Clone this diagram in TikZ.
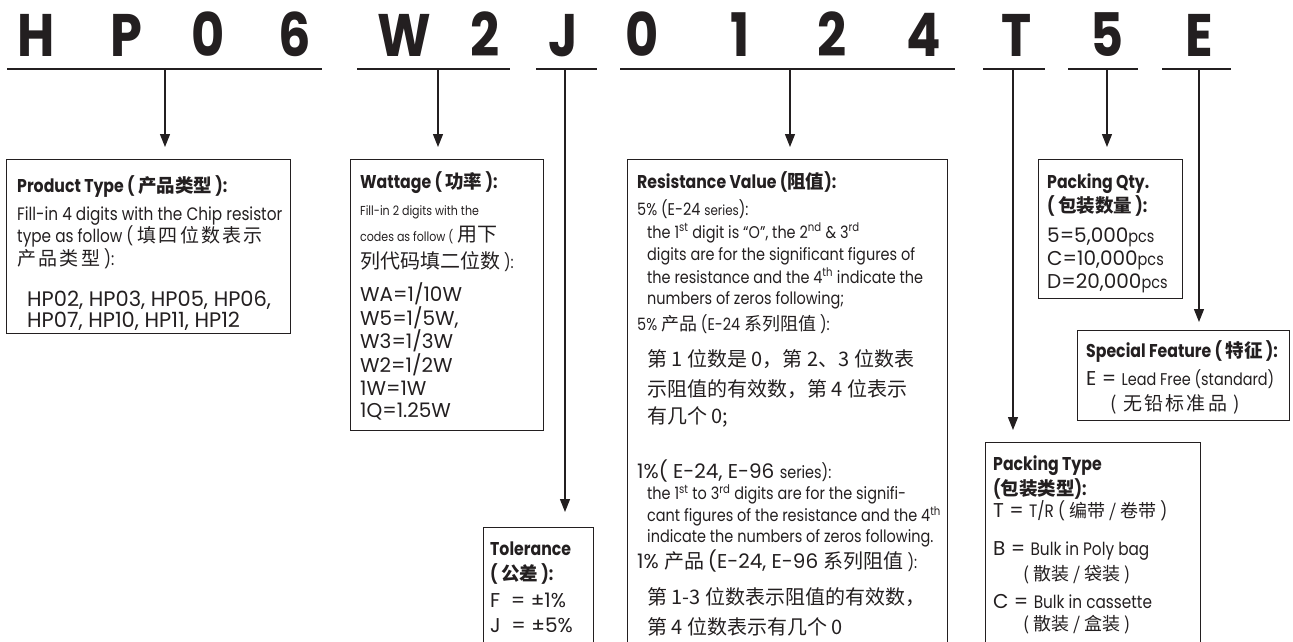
\documentclass[tikz,border=0pt]{standalone}
\usepackage{fontspec}
\setmainfont{Poppins}
\newfontfamily\narrowfont{Poppins}[FakeStretch=0.85]
\newfontfamily\bigf{Poppins}[FakeStretch=0.85]
\newfontfamily\cjk{Noto Sans CJK SC}
\newfontfamily\cjkwide{Noto Sans CJK SC}[LetterSpace=12]
\usetikzlibrary{arrows.meta}
\definecolor{ink}{HTML}{231F20}
\newcommand{\zh}[1]{{\cjk\fontsize{20}{22}\selectfont #1}}
\newcommand{\zs}[1]{{\cjk\fontsize{18}{22}\selectfont #1}}
\newcommand{\zw}[1]{{\cjkwide\fontsize{19}{22}\selectfont #1}}
\newcommand{\ttl}{\narrowfont\bfseries\fontsize{18.5}{22}\selectfont}
\newcommand{\cd}{\normalfont\fontsize{20}{22}\selectfont}
\newcommand{\xs}{\narrowfont\fontsize{13}{22}\selectfont}
\newcommand{\sm}{\narrowfont\fontsize{14}{22}\selectfont}

\begin{document}
\begin{tikzpicture}[x=1pt, y=-1pt,
    code/.style={font=\bigf\bfseries\fontsize{60}{60}\selectfont, text=ink, anchor=base, inner sep=0pt},
    frame/.style={draw=ink, line width=1.1pt, anchor=north west, inner sep=0pt},
    txt/.style={anchor=north west, inner sep=0pt, align=left, text=ink, font=\narrowfont\fontsize{17}{22}\selectfont},
    uline/.style={draw=ink, line width=1.4pt},
    pointer/.style={draw=ink, line width=1.2pt, -{Triangle[length=13pt,width=10pt]}}]
  \useasboundingbox (0,0) rectangle (1293,641);

  % part number
  \node[code] (cH) at (36,56) {H};
  \node[code] (cP) at (126,56) {P};
  \node[code] (c0) at (208,56) {0};
  \node[code] (c6) at (295,56) {6};
  \node[code] (cW) at (404,56) {W};
  \node[code] (c2) at (485,56) {2};
  \node[code] (cJ) at (563,56) {J};
  \node[code] (d0) at (642,56) {0};
  \node[code] (d1) at (740,56) {1};
  \node[code] (d2) at (832,56) {2};
  \node[code] (d4) at (924,56) {4};
  \node[code] (cT) at (1017,56) {T};
  \node[code] (c5) at (1107,56) {5};
  \node[code] (cE) at (1199,56) {E};

  % underlines
  \coordinate (hpL) at (7,69);    \coordinate (hpR) at (322,69);  \coordinate (hpT) at (165,69);
  \coordinate (wL) at (357,69);   \coordinate (wR) at (510,69);   \coordinate (wT) at (438,69);
  \coordinate (jL) at (536,69);   \coordinate (jR) at (597,69);   \coordinate (jT) at (565,69);
  \coordinate (rL) at (620,69);   \coordinate (rR) at (955,69);   \coordinate (rT) at (790,69);
  \coordinate (tL) at (983,69);   \coordinate (tR) at (1045,69);  \coordinate (tT) at (1013,69);
  \coordinate (qL) at (1068,69);  \coordinate (qR) at (1138,69);  \coordinate (qT) at (1107,69);
  \coordinate (eL) at (1162,69);  \coordinate (eR) at (1231,69);  \coordinate (eT) at (1199,69);
  \draw[uline] (hpL) -- (hpR);
  \draw[uline] (wL) -- (wR);
  \draw[uline] (jL) -- (jR);
  \draw[uline] (rL) -- (rR);
  \draw[uline] (tL) -- (tR);
  \draw[uline] (qL) -- (qR);
  \draw[uline] (eL) -- (eR);

  % boxes
  \node[frame, minimum width=284pt, minimum height=174pt] (prod) at (6,159) {};
  \node[frame, minimum width=193pt, minimum height=271pt] (watt) at (350,159) {};
  \node[frame, minimum width=320pt, minimum height=500pt] (res) at (627,159) {};
  \node[frame, minimum width=110pt, minimum height=130pt] (tol) at (483,527) {};
  \node[frame, minimum width=144pt, minimum height=139pt] (qty) at (1038,159) {};
  \node[frame, minimum width=212pt, minimum height=90pt] (spec) at (1077,330) {};
  \node[frame, minimum width=215pt, minimum height=220pt] (ptype) at (985,442) {};

  % arrows
  \draw[pointer, shorten >=12pt] (hpT) -- (hpT |- prod.north);
  \draw[pointer, shorten >=12pt] (wT) -- (wT |- watt.north);
  \draw[pointer, shorten >=15pt] (jT) -- (jT |- tol.north);
  \draw[pointer, shorten >=12pt] (rT) -- (rT |- res.north);
  \draw[pointer, shorten >=12pt] (tT) -- (tT |- ptype.north);
  \draw[pointer, shorten >=12pt] (qT) -- (qT |- qty.north);
  \draw[pointer, shorten >=8pt] (eT) -- (eT |- spec.north);

  % box texts
  \node[txt, font=\narrowfont\fontsize{18}{22}\selectfont] (prodtxt) at (17,174) {%
    {\rule{0pt}{18pt}\ttl Product Type ( {\cjk 产品类型} ):}\\[6pt]
    Fill-in 4 digits with the Chip resistor\\
    type as follow ( \zw{填四位数表示}\\[1pt]
    \zw{产品类型} ):\\[19pt]
    {\normalfont\fontsize{21}{22}\selectfont\hspace{10pt}HP02, HP03, HP05, HP06,}\\[-1pt]
    {\normalfont\fontsize{21}{22}\selectfont\hspace{10pt}HP07, HP10, HP11, HP12}};

  \node[txt] (watttxt) at (360,170) {%
    {\rule{0pt}{18pt}\ttl Wattage ( {\cjk 功率} ):}\\[5pt]
    {\xs Fill-in 2 digits with the}\\[4pt]
    {\xs codes as follow (} \zh{用下}\\[5pt]
    \zh{列代码填二位数} ):\\[10pt]
    {\cd WA=1/10W}\\[0.6pt]
    {\cd W5=1/5W,}\\[0.6pt]
    {\cd W3=1/3W}\\[0.6pt]
    {\cd W2=1/2W}\\[0.6pt]
    {\cd 1W=1W}\\[0.6pt]
    {\cd 1Q=1.25W}};

  \node[txt] (restxt) at (637,170) {%
    {\rule{0pt}{18pt}\ttl Resistance Value ({\cjk 阻值}):}\\[5pt]
    5\% (E-24 {\sm series}):\\[1pt]
    \hspace{10pt}the 1\textsuperscript{st} digit is “O”, the 2\textsuperscript{nd} \& 3\textsuperscript{rd}\\
    \hspace{10pt}digits are for the significant figures of\\[1pt]
    \hspace{10pt}the resistance and the 4\textsuperscript{th} indicate the\\[-1pt]
    \hspace{10pt}numbers of zeros following;\\[4pt]
    5\% \zs{产品} (E-24 \zs{系列阻值} ):\\[14pt]
    \hspace{10pt}\zh{第 1 位数是 0，第 2、3 位数表}\\[8pt]
    \hspace{10pt}\zh{示阻值的有效数，第 4 位表示}\\[5pt]
    \hspace{10pt}\zh{有几个 0;}\\[32pt]
    {\cd 1\%( E-24, E-96 }series):\\[-1pt]
    \hspace{10pt}the 1\textsuperscript{st} to 3\textsuperscript{rd} digits are for the signifi-\\
    \hspace{10pt}cant figures of the resistance and the 4\textsuperscript{th}\\[-1pt]
    \hspace{10pt}indicate the numbers of zeros following.\\[2pt]
    {\cd 1\% }\zh{产品} {\cd (E-24, E-96 }\zh{系列阻值} ):\\[14pt]
    \hspace{10pt}\zh{第 1-3 位数表示阻值的有效数，}\\[8pt]
    \hspace{10pt}\zh{第 4 位数表示有几个 0}};

  \node[txt] (toltxt) at (490,537) {%
    {\rule{0pt}{18pt}\ttl Tolerance}\\[3pt]
    {\ttl ( {\cjk 公差} ):}\\[5pt]
    {\cd F\ \ = ±1\%}\\[3pt]
    {\cd J\ \ = ±5\%}};

  \node[txt] (qtytxt) at (1047,170) {%
    {\rule{0pt}{18pt}\ttl Packing Qty.}\\[2pt]
    {\ttl ( {\cjk 包装数量} ):}\\[8pt]
    {\cd 5=5,000}pcs\\[1pt]
    {\cd C=10,000}pcs\\[1pt]
    {\cd D=20,000}pcs};

  \node[txt] (spectxt) at (1086,339) {%
    {\rule{0pt}{18pt}\ttl Special Feature ( {\cjk 特征} ):}\\[6pt]
    {\cd E = }Lead Free (standard)\\[3pt]
    \hspace{24pt}\zw{( 无铅标准品 )}};

  \node[txt, font=\narrowfont\fontsize{18}{22}\selectfont] (ptypetxt) at (993,452) {%
    {\rule{0pt}{18pt}\ttl Packing Type}\\[3pt]
    {\ttl ({\cjk 包装类型}):}\\
    {\cd T = }T/R ( \zs{编带 / 卷带} )\\[16pt]
    {\cd B = }Bulk in Poly bag\\[3pt]
    \hspace{30pt}\zs{( 散装 / 袋装 )}\\[6pt]
    {\cd C = }Bulk in cassette\\
    \hspace{30pt}\zs{( 散装 / 盒装 )}};
\end{tikzpicture}
\end{document}
